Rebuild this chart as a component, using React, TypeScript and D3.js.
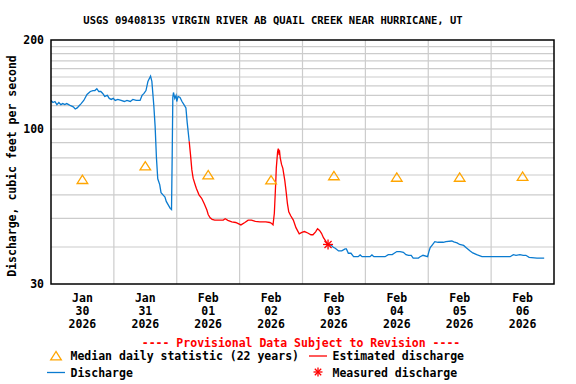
import React from "react";
import * as d3 from "d3";

const TITLE = "USGS 09408135 VIRGIN RIVER AB QUAIL CREEK NEAR HURRICANE, UT";
const Y_TICKS = [200, 100, 30];
const Y_GRID = [40, 50, 60, 70, 80, 90, 100, 110, 120, 130, 140, 150, 160, 170, 180, 190];
const DAY_MONTHS = ["Jan", "Jan", "Feb", "Feb", "Feb", "Feb", "Feb", "Feb"];
const DAY_NUMS = ["30", "31", "01", "02", "03", "04", "05", "06"];
const DAY_YEAR = "2026";

// hours since Jan 30 00:00, discharge cfs
const dischargeA: [number, number][] = [
  [0, 125], [0.75, 123], [1.5, 124], [2.25, 121], [3, 123], [3.75, 121], [4.5, 122], [5.25, 121],
  [6, 122], [6.75, 121], [7.5, 120], [8.5, 119], [9.25, 117], [10, 118], [10.75, 120], [11.5, 122],
  [12.5, 125], [13.75, 131], [15, 134], [16, 135], [16.75, 135], [17.5, 137], [18.25, 134], [19, 134],
  [19.75, 132], [20.5, 129], [21.5, 130], [22.25, 127], [23, 126], [23.75, 127], [24.5, 125],
  [25.5, 126], [26.75, 125], [28, 124], [29, 125], [30.25, 124], [31.25, 126], [32.5, 125],
  [34, 125], [34.75, 130], [35.5, 132], [36.25, 135], [37, 145], [37.5, 148], [38, 151],
  [38.5, 145], [39.25, 120], [39.75, 102], [40.25, 80], [40.75, 68], [41.5, 65], [42, 61],
  [42.75, 60], [43.5, 59], [44, 57], [44.75, 55.5], [45.5, 54], [46, 53.5], [46.25, 80],
  [46.5, 128], [46.75, 133], [47.25, 127], [47.75, 130], [48, 124], [48.5, 129], [49.25, 128],
  [50, 124], [50.75, 121], [51.5, 118], [52, 105], [52.75, 91],
];

const estimated: [number, number][] = [
  [52.75, 91], [53.25, 82], [53.75, 73], [54.25, 68.3], [55, 65], [55.5, 63], [56.5, 60],
  [57.5, 58.4], [58.5, 56], [59.5, 53.3], [60, 51.5], [60.75, 50.2], [61.5, 49.6], [62.5, 49.3],
  [65.75, 49.3], [66.5, 49.8], [67.5, 49.2], [69, 48.6], [70.5, 48.4], [72.5, 47.5], [74, 48.4],
  [75.25, 49.3], [76.5, 49.3], [78, 48.8], [79.75, 48.6], [82, 48.6], [83.5, 48.4], [84.25, 48],
  [84.75, 47.5], [85.25, 52], [85.75, 65], [86, 74], [86.5, 84], [86.75, 86], [87, 83],
  [87.25, 84], [87.5, 80], [88, 76], [88.5, 73.7], [89.25, 67], [89.75, 61.5], [90.25, 56],
  [90.75, 52.6], [91.5, 51], [92.5, 49.3], [93.5, 46.5], [94.75, 44.3], [95.75, 44.8],
  [96.75, 45.1], [98, 44.6], [99.25, 44], [100, 44], [101, 45], [101.75, 46.1], [102.5, 45.5],
  [103.25, 44.5], [104, 43], [105, 41.7], [105.75, 40.8],
];

const dischargeB: [number, number][] = [
  [105.75, 40.8], [107, 40.5], [107.75, 39.9], [108.5, 39.6], [109.75, 38.8], [111, 38.8],
  [112.25, 39.4], [112.75, 39.4], [113.5, 38.1], [114.5, 38.1], [115.5, 37.1], [117.25, 37.1],
  [118, 37.6], [118.75, 37.1], [121.75, 37.1], [122.5, 37.6], [123.25, 37.1], [127.5, 37.1],
  [128.75, 37.7], [130.25, 37.7], [132, 38.6], [133.25, 38.6], [134.5, 38.4], [135.5, 37.7],
  [136.5, 37.5], [137.5, 37.5], [138.25, 36.7], [140.25, 36.7], [140.75, 37], [142, 37.5],
  [143.75, 37.1], [144.25, 38.6], [144.75, 39.8], [145.5, 40.6], [146.5, 41.7], [147.75, 41.5],
  [149.75, 41.5], [150.75, 41.7], [153, 41.9], [153.75, 41.6], [155, 41.3], [156, 40.8],
  [157.5, 40.5], [158.5, 39.8], [160, 38.8], [161, 38.2], [162.5, 37.7], [164.5, 37.1],
  [168.75, 37.1], [171.5, 37.1], [175.25, 37.1], [176.5, 37.7], [177.5, 37.5], [179, 37.7],
  [180.25, 37.5], [181.25, 37.5], [182.5, 36.9], [185.5, 36.7], [186.75, 36.7], [188.25, 36.7],
];

const medianDays = [0, 1, 2, 3, 4, 5, 6, 7];
const medianValues = [67.5, 75, 70, 67.3, 69.5, 68.7, 68.7, 69.2];

const measured: [number, number][] = [[105.75, 40.8]];

const W = 576;
const H = 384;
const L = 51, R = 554, T = 40, B = 284;
const BLUE = "#0a7bd0";
const RED = "#ff0000";
const ORANGE = "#ffa500";
const FONT = "'DejaVu Sans Mono', monospace";

function Star({ x, y, r = 5 }: { x: number; y: number; r?: number }) {
  const angs = [0, 45, 90, 135];
  return (
    <g stroke={RED} strokeWidth={1.3}>
      {angs.map((a) => {
        const rad = (a * Math.PI) / 180;
        const dx = Math.cos(rad) * r, dy = Math.sin(rad) * r;
        return <line key={a} x1={x - dx} y1={y - dy} x2={x + dx} y2={y + dy} />;
      })}
    </g>
  );
}

function Tri({ x, y }: { x: number; y: number }) {
  const pts = `${x},${y - 4.5} ${x - 5.3},${y + 3.8} ${x + 5.3},${y + 3.8}`;
  return <polygon points={pts} fill="none" stroke={ORANGE} strokeWidth={1.3} />;
}

export default function App() {
  const xs = d3.scaleLinear().domain([0, 192]).range([L, R]);
  const ys = d3.scaleLog().domain([30, 200]).range([B, T]);
  const line = d3
    .line<[number, number]>()
    .x((d) => xs(d[0]))
    .y((d) => ys(d[1]));

  return (
    <svg
      width={W}
      height={H}
      style={{ position: "absolute", left: 0, top: 0, background: "#fff" }}
      fontFamily={FONT}
      fontWeight="bold"
    >
      <rect width={W} height={H} fill="#fff" />
      <text x={273} y={24} fontSize={10.5} textAnchor="middle" fill="#000">
        {TITLE}
      </text>
      {/* grid */}
      <g stroke="#cccccc" strokeWidth={1.2}>
        {Y_GRID.map((v) => (
          <line key={v} x1={L} x2={R} y1={ys(v)} y2={ys(v)} />
        ))}
        {d3.range(1, 8).map((d) => (
          <line key={d} x1={xs(d * 24)} x2={xs(d * 24)} y1={T} y2={B} />
        ))}
      </g>
      {/* data */}
      <path d={line(dischargeA) || ""} fill="none" stroke={BLUE} strokeWidth={1.3} />
      <path d={line(dischargeB) || ""} fill="none" stroke={BLUE} strokeWidth={1.3} />
      <path d={line(estimated) || ""} fill="none" stroke={RED} strokeWidth={1.3} />
      {medianDays.map((d, i) => (
        <Tri key={d} x={xs(d * 24 + 12)} y={ys(medianValues[i])} />
      ))}
      {measured.map((m, i) => (
        <Star key={i} x={xs(m[0])} y={ys(m[1])} />
      ))}
      {/* frame */}
      <rect x={L} y={T} width={R - L} height={B - T} fill="none" stroke="#000" strokeWidth={1.5} />
      {/* y ticks */}
      {Y_TICKS.map((v) => (
        <text key={v} x={44} y={ys(v) + 4} fontSize={11.5} textAnchor="end" fill="#000">
          {v}
        </text>
      ))}
      <text
        transform={`translate(15.5,166) rotate(-90)`}
        fontSize={11.5}
        textAnchor="middle"
        fill="#000"
      >
        Discharge, cubic feet per second
      </text>
      {/* x labels */}
      {DAY_MONTHS.map((m, i) => {
        const cx = xs(i * 24 + 12);
        return (
          <g key={i} fontSize={11.5} textAnchor="middle" fill="#000">
            <text x={cx} y={302}>{m}</text>
            <text x={cx} y={315}>{DAY_NUMS[i]}</text>
            <text x={cx} y={328}>{DAY_YEAR}</text>
          </g>
        );
      })}
      {/* legend */}
      <text x={301} y={347} fontSize={11.5} textAnchor="middle" fill={RED}>
        ---- Provisional Data Subject to Revision ----
      </text>
      <Tri x={56} y={356} />
      <text x={70.5} y={360} fontSize={11.5} fill="#000">
        Median daily statistic (22 years)
      </text>
      <line x1={309} x2={327} y1={356} y2={356} stroke={RED} strokeWidth={1.3} />
      <text x={332.5} y={360} fontSize={11.5} fill="#000">
        Estimated discharge
      </text>
      <line x1={47} x2={65} y1={372.5} y2={372.5} stroke={BLUE} strokeWidth={1.3} />
      <text x={70.5} y={376.5} fontSize={11.5} fill="#000">
        Discharge
      </text>
      <Star x={318} y={372} r={4.5} />
      <text x={332.5} y={376.5} fontSize={11.5} fill="#000">
        Measured discharge
      </text>
    </svg>
  );
}
